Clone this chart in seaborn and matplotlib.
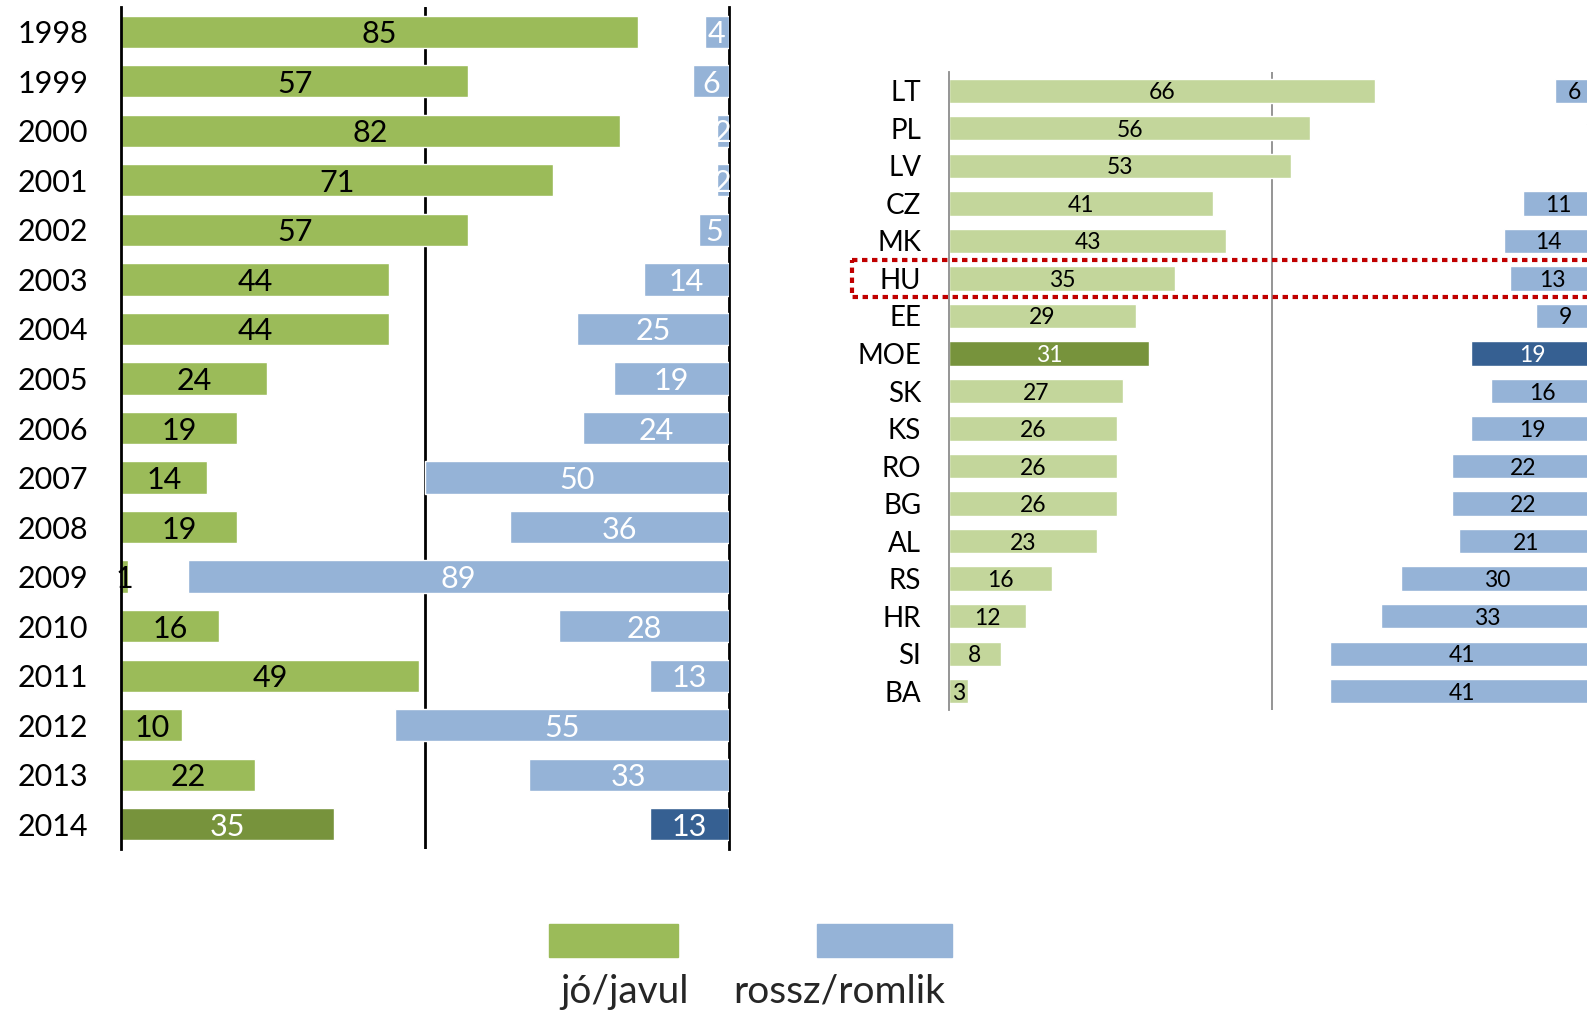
import matplotlib
matplotlib.use("Agg")
import matplotlib.pyplot as plt
import seaborn as sns
import pandas as pd
from matplotlib.patches import Rectangle

# bal panel: évek
evek = ["1998", "1999", "2000", "2001", "2002", "2003", "2004", "2005", "2006",
        "2007", "2008", "2009", "2010", "2011", "2012", "2013", "2014"]
jo_evek = [85, 57, 82, 71, 57, 44, 44, 24, 19, 14, 19, 1, 16, 49, 10, 22, 35]
rossz_evek = [4, 6, 2, 2, 5, 14, 25, 19, 24, 50, 36, 89, 28, 13, 55, 33, 13]

# jobb panel: országok
orszagok = ["LT", "PL", "LV", "CZ", "MK", "HU", "EE", "MOE", "SK", "KS", "RO",
            "BG", "AL", "RS", "HR", "SI", "BA"]
jo_orsz = [66, 56, 53, 41, 43, 35, 29, 31, 27, 26, 26, 26, 23, 16, 12, 8, 3]
rossz_orsz = [6, 1, 0, 11, 14, 13, 9, 19, 16, 19, 22, 22, 21, 30, 33, 41, 41]

zold = "#9BBB59"
zold_vilagos = "#C3D69B"
zold_sotet = "#77933C"
kek = "#95B3D7"
kek_sotet = "#366092"

sns.set_theme(style="white")
plt.rcParams["font.family"] = ["Lato", "DejaVu Sans"]

fig = plt.figure(figsize=(15.87, 10.11), dpi=100)

df1 = pd.DataFrame({"ev": evek, "jo": jo_evek, "rossz": rossz_evek})
df2 = pd.DataFrame({"orszag": orszagok, "jo": jo_orsz, "rossz": rossz_orsz})


def panel(ax, df, cat, highlight, g_col, b_col, lab_size, tick_size, pad, spine_col, spine_w, g_txt, b_txt):
    axb = ax.twiny()
    g_pal = [zold_sotet if c == highlight else g_col for c in df[cat]]
    b_pal = [kek_sotet if c == highlight else b_col for c in df[cat]]
    sns.barplot(data=df, x="jo", y=cat, hue=cat, palette=g_pal, legend=False,
                width=0.65, saturation=1, orient="h", ax=ax)
    sns.barplot(data=df, x="rossz", y=cat, hue=cat, palette=b_pal, legend=False,
                width=0.65, saturation=1, orient="h", ax=axb)
    ax.set_xlim(0, 100)
    axb.set_xlim(100, 0)
    n = len(df)
    ax.set_ylim(n - 0.5, -0.5)
    axb.set_ylim(n - 0.5, -0.5)
    for a in (ax, axb):
        a.set_xticks([])
        a.set_xlabel("")
        a.set_ylabel("")
        for s in a.spines.values():
            s.set_visible(False)
    ax.spines["left"].set_visible(True)
    ax.spines["right"].set_visible(True)
    for s in ("left", "right"):
        ax.spines[s].set_color(spine_col)
        ax.spines[s].set_linewidth(spine_w)
    ax.axvline(50, color=spine_col, lw=spine_w, zorder=0.5)
    ax.tick_params(axis="y", length=0, pad=pad, labelsize=tick_size, labelcolor="black")

    cats = list(df[cat])
    for i, c in enumerate(ax.containers):
        col = "white" if cats[i] == highlight else g_txt
        for t in ax.bar_label(c, labels=[str(df["jo"].iloc[i])], label_type="center",
                              fontsize=lab_size, color=col):
            t.set_va("center_baseline")
    for i, c in enumerate(axb.containers):
        col = "white" if cats[i] == highlight else b_txt
        for t in axb.bar_label(c, labels=[str(df["rossz"].iloc[i])], label_type="center",
                               fontsize=lab_size, color=col):
            t.set_va("center_baseline")
    return axb


ax1 = fig.add_axes([121.5 / 1587, 1 - 849 / 1011, (729 - 121.5) / 1587, 842 / 1011])
panel(ax1, df1, "ev", "2014", zold, kek, 22, 22, 24, "black", 2, "black", "white")

ax2 = fig.add_axes([949 / 1587, 1 - 710 / 1011, (1594 - 949) / 1587, 638 / 1011])
panel(ax2, df2, "orszag", "MOE", zold_vilagos, kek, 16.5, 20, 20, "#8C8C8C", 1.3, "black", "black")
ax2.set_yticklabels(orszagok, ha="right")

# HU kiemelés
hu = orszagok.index("HU")
ax2.add_patch(Rectangle((-15, hu - 0.5), 125, 1.0, fill=False, edgecolor="#C00000",
                        lw=3, linestyle=(0, (1.3, 1.1)), clip_on=False, zorder=5))

# jelmagyarázat
fig.patches.append(Rectangle((549 / 1587, 1 - 957 / 1011), 129 / 1587, 33 / 1011,
                             transform=fig.transFigure, color=zold))
fig.patches.append(Rectangle((817 / 1587, 1 - 957 / 1011), 135 / 1587, 33 / 1011,
                             transform=fig.transFigure, color=kek))
fig.text(625 / 1587, 1 - 1003 / 1011, "jó/javul", ha="center", va="baseline", fontsize=28)
fig.text(839 / 1587, 1 - 1003 / 1011, "rossz/romlik", ha="center", va="baseline", fontsize=28)

fig.savefig("out.png", dpi=100)
